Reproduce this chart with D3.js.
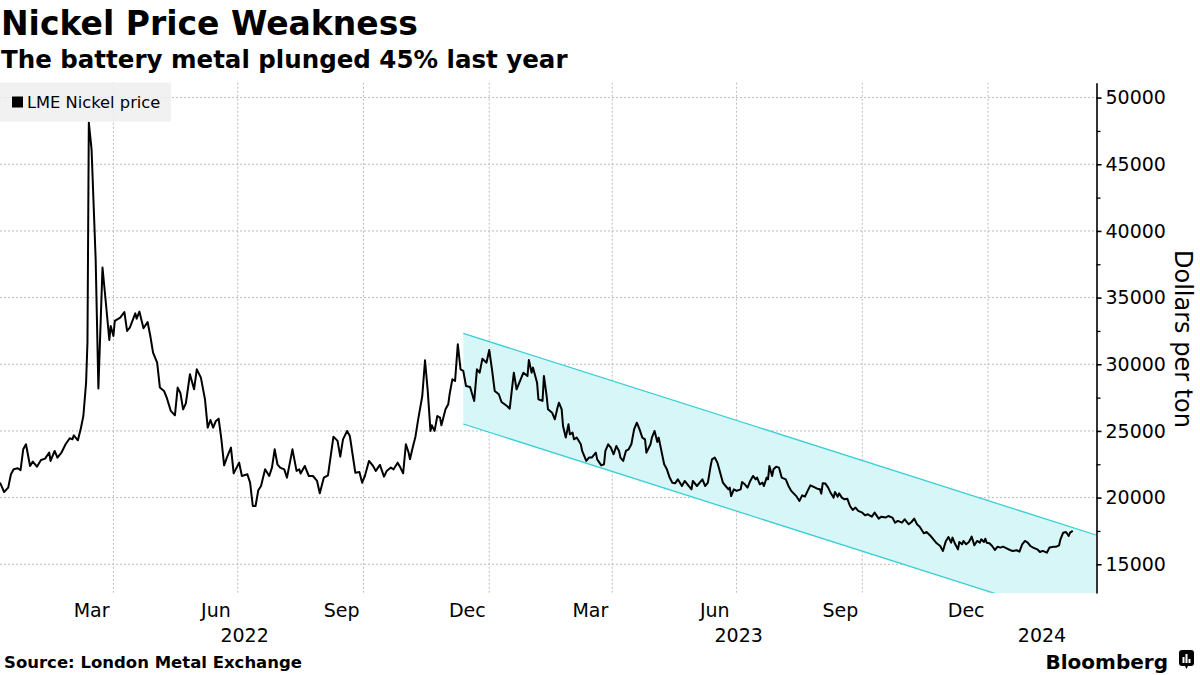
<!DOCTYPE html>
<html><head><meta charset="utf-8">
<script src="https://cdn.jsdelivr.net/npm/d3@7"></script>
<style>body{margin:0;background:#fff;} svg{display:block;}</style>
</head><body>
<svg id="c" width="1200" height="675"></svg>
<script>
// ---------------- DATA ----------------
const dates = [
"2022-01-08","2022-01-11","2022-01-14","2022-01-16","2022-01-18","2022-01-21","2022-01-23","2022-01-25","2022-01-27","2022-01-30",
"2022-02-01","2022-02-04","2022-02-07","2022-02-10","2022-02-13","2022-02-14","2022-02-17","2022-02-19","2022-02-22","2022-02-25","2022-02-28",
"2022-03-02","2022-03-03","2022-03-06","2022-03-08","2022-03-10","2022-03-12","2022-03-13","2022-03-14","2022-03-16","2022-03-19","2022-03-21","2022-03-24","2022-03-26","2022-03-29","2022-03-30",
"2022-04-01","2022-04-02","2022-04-06","2022-04-09","2022-04-11","2022-04-13","2022-04-17","2022-04-18","2022-04-20","2022-04-23","2022-04-26","2022-04-28","2022-04-30",
"2022-05-03","2022-05-05","2022-05-08","2022-05-10","2022-05-13","2022-05-16","2022-05-18","2022-05-20","2022-05-22","2022-05-24","2022-05-27","2022-05-30",
"2022-06-01","2022-06-04","2022-06-07","2022-06-09","2022-06-11","2022-06-13","2022-06-15","2022-06-17","2022-06-19","2022-06-21","2022-06-23","2022-06-26","2022-06-28",
"2022-07-02","2022-07-04","2022-07-08","2022-07-10","2022-07-12","2022-07-14","2022-07-16","2022-07-18","2022-07-21","2022-07-24","2022-07-26","2022-07-28","2022-07-30",
"2022-08-01","2022-08-04","2022-08-06","2022-08-10","2022-08-13","2022-08-15","2022-08-16","2022-08-19","2022-08-22","2022-08-25","2022-08-28","2022-08-30",
"2022-09-02","2022-09-05","2022-09-09","2022-09-12","2022-09-14","2022-09-16","2022-09-19","2022-09-21","2022-09-25","2022-09-28","2022-09-30",
"2022-10-02","2022-10-05","2022-10-08","2022-10-10","2022-10-13","2022-10-16","2022-10-18","2022-10-21","2022-10-23","2022-10-26","2022-10-28","2022-10-30",
"2022-11-01","2022-11-03","2022-11-04","2022-11-06","2022-11-08","2022-11-10","2022-11-13","2022-11-15","2022-11-17","2022-11-19","2022-11-20","2022-11-22","2022-11-24","2022-11-26","2022-11-27","2022-11-30",
"2022-12-02","2022-12-03","2022-12-05","2022-12-07","2022-12-09","2022-12-11","2022-12-13","2022-12-15","2022-12-18","2022-12-21","2022-12-23","2022-12-25","2022-12-27","2022-12-30",
"2023-01-01","2023-01-03","2023-01-05","2023-01-08","2023-01-10","2023-01-14","2023-01-16","2023-01-19","2023-01-21","2023-01-24","2023-01-26","2023-01-29","2023-01-30",
"2023-02-01","2023-02-02","2023-02-05","2023-02-06","2023-02-09","2023-02-10","2023-02-12","2023-02-13","2023-02-16","2023-02-18","2023-02-20","2023-02-21","2023-02-23","2023-02-24","2023-02-26","2023-02-28",
"2023-03-01","2023-03-03","2023-03-04","2023-03-06","2023-03-09","2023-03-10","2023-03-13","2023-03-15","2023-03-17","2023-03-20","2023-03-21","2023-03-24","2023-03-26","2023-03-27","2023-03-29","2023-03-31",
"2023-04-02","2023-04-04","2023-04-06","2023-04-07","2023-04-09","2023-04-11","2023-04-13","2023-04-15","2023-04-17","2023-04-19","2023-04-21","2023-04-23","2023-04-25","2023-04-26","2023-04-29","2023-04-30",
"2023-05-02","2023-05-04","2023-05-05","2023-05-07","2023-05-09","2023-05-11","2023-05-13","2023-05-15","2023-05-17","2023-05-19","2023-05-22","2023-05-24","2023-05-27","2023-05-29","2023-05-30",
"2023-06-02","2023-06-04","2023-06-06","2023-06-08","2023-06-10","2023-06-12","2023-06-13","2023-06-15","2023-06-17","2023-06-19","2023-06-21","2023-06-23","2023-06-25","2023-06-26","2023-06-27","2023-06-29",
"2023-07-01","2023-07-04","2023-07-05","2023-07-07","2023-07-09","2023-07-11","2023-07-13","2023-07-15","2023-07-16","2023-07-18","2023-07-20","2023-07-21","2023-07-23","2023-07-24","2023-07-25","2023-07-27","2023-07-28","2023-07-30",
"2023-08-01","2023-08-03","2023-08-06","2023-08-08","2023-08-10","2023-08-14","2023-08-16","2023-08-18","2023-08-20","2023-08-22","2023-08-24","2023-08-26","2023-08-29","2023-08-31",
"2023-09-01","2023-09-02","2023-09-04","2023-09-06","2023-09-08","2023-09-10","2023-09-11","2023-09-13","2023-09-14","2023-09-16","2023-09-18","2023-09-20","2023-09-22","2023-09-24","2023-09-26","2023-09-28",
"2023-10-01","2023-10-03","2023-10-05","2023-10-08","2023-10-10","2023-10-13","2023-10-15","2023-10-18","2023-10-20","2023-10-23","2023-10-25","2023-10-27","2023-10-30",
"2023-11-01","2023-11-04","2023-11-06","2023-11-08","2023-11-10","2023-11-12","2023-11-15","2023-11-17","2023-11-20","2023-11-22","2023-11-24","2023-11-27","2023-11-29",
"2023-12-01","2023-12-03","2023-12-05","2023-12-06","2023-12-08","2023-12-10","2023-12-11","2023-12-13","2023-12-14","2023-12-16","2023-12-18","2023-12-20","2023-12-22","2023-12-24","2023-12-26","2023-12-27","2023-12-29","2023-12-30","2023-12-31",
"2024-01-02","2024-01-04","2024-01-06","2024-01-08","2024-01-10","2024-01-12","2024-01-15","2024-01-17","2024-01-19","2024-01-22","2024-01-24","2024-01-26","2024-01-28","2024-01-30",
"2024-02-01","2024-02-03","2024-02-06","2024-02-08","2024-02-10","2024-02-13","2024-02-15","2024-02-18","2024-02-20","2024-02-22","2024-02-23","2024-02-25","2024-02-27","2024-02-29",
"2024-03-01","2024-03-03"
];
const prices = [
21130,20420,20750,21750,22120,22200,22050,23620,24000,22370,
22700,22320,22820,22920,23380,22750,23500,23000,23380,24000,24450,
24370,24670,24300,25120,26120,28620,31650,48120,46120,37870,28180,37250,35120,31820,32870,
32120,33250,33500,33920,32500,32750,33820,33420,33950,32700,33170,32120,30870,
30120,28250,28000,27500,26500,26170,28250,27850,26620,27070,29250,28120,
29620,29000,27370,25250,25820,25250,25750,25920,24370,22420,23000,23750,21820,
22620,21620,21750,21120,19370,19370,20550,20870,22120,21620,22250,23620,22500,
22250,22120,21500,23620,22000,22120,21800,22370,21620,21620,21250,20320,
21500,21670,24570,24250,23070,24370,25000,24620,21870,21920,21120,
21620,22750,22370,22000,22450,21570,22000,22250,22120,22620,22250,21820,
24000,23370,22870,23750,24570,25870,27620,30300,28000,25000,25420,25000,26120,26000,25420,26620,
27000,27750,28870,28750,31500,29620,29500,28370,28300,27250,29620,29370,30420,30120,
31070,29620,28000,27750,27170,26870,26670,29370,28120,28870,29370,29120,30320,
29370,29750,28620,27370,27250,29120,27620,26620,26370,25870,26750,27120,26620,25370,24500,25500,
24750,24870,24370,24500,24000,23500,22750,23000,23000,23370,22870,22420,22500,23500,24000,23750,
23250,23870,23500,23000,22750,23500,23620,24000,25120,25620,25120,24500,24370,23370,24000,24500,
25000,24170,24500,23500,22500,22120,21500,21120,21070,21370,20870,21250,20870,20620,21250,
20870,21120,21370,20870,21120,22370,22870,23000,22620,21870,21120,20870,20620,20750,20120,20620,
20500,20620,21170,21000,20750,21250,21620,21370,21500,21000,21120,20870,21500,21370,22370,21620,22120,22320,
22250,21500,21370,20870,20500,20070,19750,20170,20070,20500,20920,20820,20670,20620,
20300,21070,21050,20750,20320,20000,20420,20070,20320,20000,19870,19920,19370,19070,19250,19000,
18870,18670,18750,18570,18870,18420,18570,18500,18620,18500,18120,18250,18120,
18370,18000,18170,18420,18000,17820,17320,17420,17120,16870,16620,16370,16000,
16700,17050,16620,17000,16500,16120,16670,16500,16750,16500,16670,17070,16420,16750,16620,16870,16670,16920,16620,
16570,16370,16070,16320,16250,16320,16170,16070,16000,16050,15950,16500,16750,16620,
16370,16250,16120,15920,16000,15870,16250,16320,16320,16420,16870,17370,17420,17120,
17370,17500
];
// Trend channel (start / end of the shaded band)
const bandDates = ["2022-12-13", "2024-03-20"];
const bandUpper = [32320, 17195];
const bandLower = [25520, 10395];

// Axes
const xDomain = ["2022-01-08", "2024-03-20"];
const yDomain = [12845, 51117];
const yMajorTicks = [15000, 20000, 25000, 30000, 35000, 40000, 45000, 50000];
const yMinorTicks = [17500, 22500, 27500, 32500, 37500, 42500, 47500];
const gridDates = ["2022-04-01","2022-07-01","2022-10-01","2023-01-01","2023-04-01","2023-07-01","2023-10-01","2024-01-01"];
const monthLabelDates = ["2022-03-16","2022-06-15","2022-09-15","2022-12-16","2023-03-16","2023-06-15","2023-09-15","2023-12-16"];
const monthLabels = ["Mar","Jun","Sep","Dec","Mar","Jun","Sep","Dec"];
const yearLabels = ["2022","2023","2024"];
const yearStarts = ["2022-01-08","2023-01-01","2024-01-01"];
const yearEnds = ["2023-01-01","2024-01-01","2024-03-20"];

const title = "Nickel Price Weakness";
const subtitle = "The battery metal plunged 45% last year";
const legendLabel = "LME Nickel price";
const yTitle = "Dollars per ton";
const source = "Source: London Metal Exchange";

// ---------------- CHART ----------------
const parse = d3.utcParse("%Y-%m-%d");
const FONT = "DejaVu Sans, Verdana, sans-serif";
const svg = d3.select("#c");
const plot = {left: 0, right: 1096.5, top: 82.7, bottom: 593};

const x = d3.scaleUtc().domain(xDomain.map(parse)).range([plot.left, 1096]);
const y = d3.scaleLinear().domain(yDomain).range([plot.bottom, plot.top]);

svg.append("defs").append("clipPath").attr("id", "clip")
  .append("rect").attr("x", plot.left).attr("y", plot.top)
  .attr("width", plot.right - plot.left).attr("height", plot.bottom - plot.top);

// title
svg.append("text").attr("x", 1).attr("y", 35).text(title)
  .attr("font-family", FONT).attr("font-weight", "bold").attr("font-size", 33).attr("fill", "#000");
svg.append("text").attr("x", 1).attr("y", 68).text(subtitle)
  .attr("font-family", FONT).attr("font-weight", "bold").attr("font-size", 24.5).attr("fill", "#000");

// gridlines
const grid = svg.append("g");
grid.selectAll("line.h").data(yMajorTicks).join("line")
  .attr("x1", plot.left).attr("x2", plot.right)
  .attr("y1", d => y(d)).attr("y2", d => y(d))
  .attr("stroke", "#bdbdbd").attr("stroke-width", 1).attr("stroke-dasharray", "2,2");
grid.selectAll("line.v").data(gridDates).join("line")
  .attr("x1", d => x(parse(d))).attr("x2", d => x(parse(d)))
  .attr("y1", plot.top).attr("y2", plot.bottom)
  .attr("stroke", "#bdbdbd").attr("stroke-width", 1).attr("stroke-dasharray", "2,2");

// band
const bandData = bandDates.map((d, i) => ({d: parse(d), hi: bandUpper[i], lo: bandLower[i]}));
const gBand = svg.append("g").attr("clip-path", "url(#clip)");
gBand.append("path").datum(bandData)
  .attr("d", d3.area().x(d => x(d.d)).y0(d => y(d.lo)).y1(d => y(d.hi)))
  .attr("fill", "#d5f6f7").attr("fill-opacity", 0.95);
gBand.append("path").datum(bandData)
  .attr("d", d3.line().x(d => x(d.d)).y(d => y(d.hi)))
  .attr("fill", "none").attr("stroke", "#39cfd4").attr("stroke-width", 1.3);
gBand.append("path").datum(bandData)
  .attr("d", d3.line().x(d => x(d.d)).y(d => y(d.lo)))
  .attr("fill", "none").attr("stroke", "#39cfd4").attr("stroke-width", 1.3);

// legend
const lg = svg.append("g");
lg.append("rect").attr("x", 0).attr("y", plot.top).attr("width", 171).attr("height", 39)
  .attr("fill", "#eeeeee").attr("fill-opacity", 0.85);
lg.append("rect").attr("x", 12).attr("y", 96.5).attr("width", 11).attr("height", 11).attr("fill", "#000");
lg.append("text").attr("x", 27).attr("y", 108.3).text(legendLabel)
  .attr("font-family", FONT).attr("font-size", 16.3).attr("fill", "#000");

// price line
const series = dates.map((d, i) => ({d: parse(d), v: prices[i]}));
svg.append("path").datum(series)
  .attr("clip-path", "url(#clip)")
  .attr("d", d3.line().x(d => x(d.d)).y(d => y(d.v)))
  .attr("fill", "none").attr("stroke", "#000").attr("stroke-width", 2)
  .attr("stroke-linejoin", "round");

// y axis
const yAxis = d3.axisRight(y).tickValues(yMajorTicks).tickSize(5).tickSizeOuter(0).tickPadding(4)
  .tickFormat(d3.format("d"));
const gy = svg.append("g").attr("transform", `translate(${plot.right},0)`).call(yAxis);
gy.select(".domain").attr("stroke", "#000").attr("stroke-width", 1.6);
gy.selectAll(".tick line").attr("stroke", "#000").attr("stroke-width", 1.6);
gy.selectAll(".tick text").attr("font-family", FONT).attr("font-size", 19).attr("fill", "#000");
const yMinor = d3.axisRight(y).tickValues(yMinorTicks).tickSize(4).tickSizeOuter(0).tickFormat("");
const gy2 = svg.append("g").attr("transform", `translate(${plot.right},0)`).call(yMinor);
gy2.select(".domain").remove();
gy2.selectAll(".tick line").attr("stroke", "#000").attr("stroke-width", 1.3);

// y title
svg.append("text").attr("transform", `translate(1175,339) rotate(90)`)
  .attr("text-anchor", "middle").text(yTitle)
  .attr("font-family", FONT).attr("font-size", 24).attr("fill", "#000");

// x labels
const gx = svg.append("g");
gx.selectAll("text.m").data(monthLabelDates).join("text")
  .attr("x", d => x(parse(d))).attr("y", 617).attr("text-anchor", "middle")
  .text((d, i) => monthLabels[i])
  .attr("font-family", FONT).attr("font-size", 19).attr("fill", "#000");
gx.selectAll("text.y").data(yearLabels).join("text")
  .attr("x", (d, i) => (x(parse(yearStarts[i])) + x(parse(yearEnds[i]))) / 2)
  .attr("y", 642).attr("text-anchor", "middle").text(d => d)
  .attr("font-family", FONT).attr("font-size", 19).attr("fill", "#000");

// source
svg.append("text").attr("x", 4).attr("y", 668).text(source)
  .attr("font-family", FONT).attr("font-weight", "bold").attr("font-size", 16.5).attr("fill", "#000");

// Bloomberg logo
svg.append("text").attr("x", 1168).attr("y", 669).attr("text-anchor", "end").text("Bloomberg")
  .attr("font-family", FONT).attr("font-weight", "bold").attr("font-size", 20).attr("fill", "#000");
const logo = svg.append("g").attr("transform", "translate(1179,650)");
logo.append("rect").attr("width", 15).attr("height", 16).attr("rx", 3).attr("fill", "#000");
logo.append("path").attr("d", "M6,16 L7.5,19 L9,16 Z").attr("fill", "#000");
[[3.5, 7], [6.5, 4], [9.5, 9]].forEach(([bx, by]) => {
  logo.append("rect").attr("x", bx).attr("y", by).attr("width", 2).attr("height", 13 - by).attr("fill", "#fff");
});
</script>
</body></html>
